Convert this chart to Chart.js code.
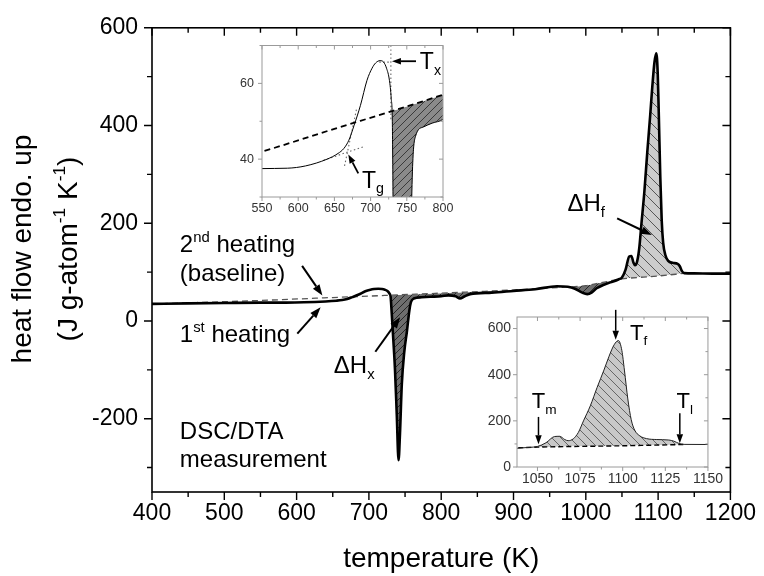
<!DOCTYPE html>
<html>
<head>
<meta charset="utf-8">
<script src="https://cdn.jsdelivr.net/npm/chart.js@4.4.0/dist/chart.umd.min.js"></script>
<style>
  body { margin: 0; background: #fff; }
  #wrap { position: relative; width: 764px; height: 576px; }
  canvas { position: absolute; }
</style>
</head>
<body>
<div id="wrap">
  <canvas id="main" width="764" height="576" style="left:0;top:0"></canvas>
  <canvas id="glass" width="230" height="190" style="left:232px;top:30px"></canvas>
  <canvas id="melt" width="250" height="200" style="left:477px;top:300px"></canvas>
</div>
<script>
// 1st heating (temperature K / heat flow)
const heatT = [400, 450, 500, 550, 585, 610, 640, 655, 663, 670, 677, 686, 695, 702, 707, 713, 718, 722, 726, 728.5,
  730, 731, 733, 736, 738.5, 741, 743, 745.5, 749, 752.5, 756, 758, 762, 773, 785, 800, 810, 820, 826, 832,
  840, 870, 900, 930, 960, 975, 985, 995, 1002, 1008, 1015, 1025, 1034, 1045, 1050, 1055, 1060, 1063, 1066, 1068,
  1071, 1074, 1077, 1081, 1085, 1089, 1092, 1095, 1097.5, 1099.5, 1101, 1103, 1105, 1107, 1110, 1114, 1120, 1127, 1130, 1133,
  1136, 1150, 1175, 1200];
const firstHeating = [35, 36, 36.8, 37.5, 37.6, 38.2, 40, 41.5, 42.8, 45, 48.8, 54.2, 60.8, 64, 65.4, 66, 65.6, 64, 60.8, 56,
  50, 30, -20, -97, -190, -285, -230, -130, -62, -22, 22, 38, 46, 48.5, 49.5, 50.5, 52.5, 50.5, 46, 50,
  55, 58, 61.5, 65, 71, 70, 66, 58, 55, 58, 67, 74, 79, 85, 89, 105, 132, 133, 119, 114,
  122, 150, 200, 265, 345, 420, 480, 530, 548, 505, 420, 295, 205, 160, 135, 123, 119, 117, 112, 102,
  98, 97.5, 97, 97];

// 2nd heating = baseline
const baseT = [400, 500, 550, 650, 730, 800, 900, 950, 1000, 1020, 1050, 1100, 1136];
const baseline = [35, 39.5, 42, 48, 52.7, 57, 63.5, 67.5, 72.5, 78, 86, 92, 97.5];

// construction lines of the glass-transition inset
const tgLowT = [635, 692];
const tgLow = [39.7, 43.4];
const tgSteepT = [664, 681];
const tgSteep = [38.2, 53.6];
const txVertT = [728, 728];
const txVert = [70, 50];
const txLevelT = [712, 728];
const txLevel = [65.6, 65.6];

// tick values
const mainXTicks = [400, 500, 600, 700, 800, 900, 1000, 1100, 1200];
const mainXMinor = [450, 550, 650, 750, 850, 950, 1050, 1150];
const mainYTicks = [-200, 0, 200, 400, 600];
const mainYMinor = [-300, -100, 100, 300, 500];
const glassXTicks = [550, 600, 650, 700, 750, 800];
const glassXMinor = [575, 625, 675, 725, 775];
const glassYTicks = [40, 60];
const glassYMinor = [30, 50, 70];
const meltXTicks = [1050, 1075, 1100, 1125, 1150];
const meltXMinor = [1062.5, 1087.5, 1112.5, 1137.5];
const meltYTicks = [0, 200, 400, 600];
const meltYMinor = [100, 300, 500];

const FAMILY = "'Liberation Sans', Arial, sans-serif";
Chart.defaults.font.family = FAMILY;

function pts(xs, ys) { return xs.map((x, i) => ({ x: x, y: ys[i] })); }
function between(xs, ys, lo, hi) { return pts(xs, ys).filter(p => p.x >= lo && p.x <= hi); }

// hatched fill
function hatch(bg, fg, gap, slash) {
  const c = document.createElement('canvas');
  c.width = c.height = gap;
  const g = c.getContext('2d');
  g.fillStyle = bg;
  g.fillRect(0, 0, gap, gap);
  g.strokeStyle = fg;
  g.lineWidth = 1;
  g.beginPath();
  if (slash) {
    g.moveTo(0, gap); g.lineTo(gap, 0);
    g.moveTo(-gap, gap); g.lineTo(gap, -gap);
    g.moveTo(0, 2 * gap); g.lineTo(2 * gap, 0);
  } else {
    g.moveTo(0, 0); g.lineTo(gap, gap);
    g.moveTo(-gap, 0); g.lineTo(gap, 2 * gap);
    g.moveTo(0, -gap); g.lineTo(2 * gap, gap);
  }
  g.stroke();
  return g.createPattern(c, 'repeat');
}

// text with super/subscripts: parts = [[text, 'n'|'sup'|'sub'], ...]
function richWidth(ctx, parts, size) {
  let w = 0;
  parts.forEach(([t, k]) => {
    ctx.font = (k === 'n' ? size : size * 0.62) + 'px ' + FAMILY;
    w += ctx.measureText(t).width;
  });
  return w;
}
function rich(ctx, x, y, parts, size) {
  let cx = x;
  ctx.textAlign = 'left';
  ctx.textBaseline = 'alphabetic';
  parts.forEach(([t, k]) => {
    const s = k === 'n' ? size : size * 0.62;
    const dy = k === 'sup' ? -size * 0.42 : (k === 'sub' ? size * 0.25 : 0);
    ctx.font = s + 'px ' + FAMILY;
    ctx.fillText(t, cx, y + dy);
    cx += ctx.measureText(t).width;
  });
}

function drawArrow(ctx, x1, y1, x2, y2, w, head) {
  const a = Math.atan2(y2 - y1, x2 - x1);
  const bx = x2 - head * Math.cos(a), by = y2 - head * Math.sin(a);
  const hw = head * 0.36;
  ctx.lineWidth = w;
  ctx.beginPath(); ctx.moveTo(x1, y1); ctx.lineTo(bx, by); ctx.stroke();
  ctx.beginPath();
  ctx.moveTo(x2, y2);
  ctx.lineTo(bx + hw * Math.sin(a), by - hw * Math.cos(a));
  ctx.lineTo(bx - hw * Math.sin(a), by + hw * Math.cos(a));
  ctx.closePath();
  ctx.fill();
}

// box, ticks (out on left/bottom, in on top/right) and white plot background
const framePlugin = {
  id: 'frame',
  beforeDatasetsDraw(chart, args, o) {
    const { ctx, chartArea: a } = chart;
    ctx.save();
    ctx.fillStyle = '#fff';
    ctx.fillRect(a.left, a.top, a.right - a.left, a.bottom - a.top);
    ctx.restore();
  },
  afterDraw(chart, args, o) {
    const { ctx, chartArea: a, scales: { x, y } } = chart;
    ctx.save();
    ctx.strokeStyle = o.color;
    ctx.lineWidth = o.width;
    ctx.strokeRect(a.left, a.top, a.right - a.left, a.bottom - a.top);
    ctx.lineWidth = o.tickWidth;
    ctx.beginPath();
    const xs = (vals, len) => vals.forEach(v => {
      const p = x.getPixelForValue(v);
      ctx.moveTo(p, a.bottom); ctx.lineTo(p, a.bottom + len);
      ctx.moveTo(p, a.top); ctx.lineTo(p, a.top + len);
    });
    const ys = (vals, len) => vals.forEach(v => {
      const p = y.getPixelForValue(v);
      ctx.moveTo(a.left, p); ctx.lineTo(a.left - len, p);
      ctx.moveTo(a.right, p); ctx.lineTo(a.right - len, p);
    });
    xs(o.xMajor, o.major); xs(o.xMinor, o.minor);
    ys(o.yMajor, o.major); ys(o.yMinor, o.minor);
    ctx.stroke();
    ctx.restore();
  }
};

// labels and arrows placed in data coordinates
const notesPlugin = {
  id: 'notes',
  afterDraw(chart, args, o) {
    const { ctx, scales: { x, y } } = chart;
    ctx.save();
    ctx.fillStyle = o.color;
    ctx.strokeStyle = o.color;
    (o.arrows || []).forEach(r => drawArrow(ctx, x.getPixelForValue(r[0]), y.getPixelForValue(r[1]),
      x.getPixelForValue(r[2]), y.getPixelForValue(r[3]), o.arrowWidth, o.head));
    (o.texts || []).forEach(t => rich(ctx, x.getPixelForValue(t.at[0]), y.getPixelForValue(t.at[1]), t.parts, t.size));
    ctx.restore();
  }
};

// axis titles of the big chart
const titlesPlugin = {
  id: 'titles',
  afterDraw(chart) {
    const { ctx, chartArea: a } = chart;
    ctx.save();
    ctx.fillStyle = '#000';
    const xt = [['temperature (K)', 'n']];
    rich(ctx, (a.left + a.right) / 2 - richWidth(ctx, xt, 28) / 2, 567, xt, 28);
    const l1 = [['heat flow endo. up', 'n']];
    const l2 = [['(J g-atom', 'n'], ['-1', 'sup'], [' K', 'n'], ['-1', 'sup'], [')', 'n']];
    ctx.translate(0, 249);
    ctx.rotate(-Math.PI / 2);
    rich(ctx, -richWidth(ctx, l1, 28) / 2, 31, l1, 28);
    rich(ctx, -richWidth(ctx, l2, 28) / 2, 77, l2, 28);
    ctx.restore();
  }
};

function fixedTicks(list) { return s => { s.ticks = list.map(v => ({ value: v })); }; }
const plain = v => String(v);

function lineSet(label, data, color, width, dash) {
  return { label: label, data: data, borderColor: color, borderWidth: width, borderDash: dash || [],
    pointRadius: 0, cubicInterpolationMode: 'monotone', fill: false };
}
function fillSet(label, data, target, above, below) {
  return { label: label, data: data, borderColor: 'rgba(0,0,0,0)', borderWidth: 0, pointRadius: 0,
    cubicInterpolationMode: 'monotone', fill: { target: target, above: above, below: below } };
}
const none = 'rgba(0,0,0,0)';

function axes(xr, yr, xt, yt, size, color, padX, padY, yWidth, xHeight) {
  return {
    x: { type: 'linear', min: xr[0], max: xr[1], grid: { display: false, drawTicks: false }, border: { display: false },
      afterBuildTicks: fixedTicks(xt), afterFit: s => { s.height = xHeight; },
      ticks: { font: { size: size }, color: color, padding: padX, maxRotation: 0, autoSkip: false, callback: plain } },
    y: { type: 'linear', min: yr[0], max: yr[1], grid: { display: false, drawTicks: false }, border: { display: false },
      afterBuildTicks: fixedTicks(yt), afterFit: s => { s.width = yWidth; },
      ticks: { font: { size: size }, color: color, padding: padY, autoSkip: false, callback: plain } }
  };
}

const common = { responsive: false, animation: false, events: [] };

// ---- main chart ----
new Chart(document.getElementById('main'), {
  type: 'line',
  data: { datasets: [
    lineSet('1st heating', pts(heatT, firstHeating), '#000', 2.6),
    lineSet('2nd heating (baseline)', pts(baseT, baseline), '#555', 1.3, [6, 4]),
    fillSet('crystallization', between(heatT, firstHeating, 728, 1046), 1, none, hatch('#6e6e6e', '#262626', 7, true)),
    fillSet('melting', between(heatT, firstHeating, 1045, 1137), 1, hatch('#cccccc', '#555555', 11, false), none)
  ] },
  options: Object.assign({}, common, {
    layout: { padding: { top: 22, right: 30, left: 0, bottom: 0 } },
    scales: axes([400, 1200], [-350, 600], mainXTicks, mainYTicks, 23, '#000', 8, 14, 152, 84),
    plugins: {
      legend: { display: false }, tooltip: { enabled: false },
      frame: { color: '#000', width: 1.6, tickWidth: 1.4, major: 8, minor: 5,
        xMajor: mainXTicks, xMinor: mainXMinor, yMajor: mainYTicks, yMinor: mainYMinor },
      notes: { color: '#000', arrowWidth: 2, head: 11,
        arrows: [[607.6, 112.8, 635.7, 52.2], [601, -26, 633.2, 27.9], [708.9, -63, 743.2, 7.7], [1043.3, 210, 1091.4, 176]],
        texts: [
          { at: [438.5, 142], parts: [['2', 'n'], ['nd', 'sup'], [' heating', 'n']], size: 24 },
          { at: [438.5, 82], parts: [['(baseline)', 'n']], size: 24 },
          { at: [438.5, -44], parts: [['1', 'n'], ['st', 'sup'], [' heating', 'n']], size: 24 },
          { at: [651.5, -107], parts: [['\u0394H', 'n'], ['x', 'sub']], size: 24 },
          { at: [974.6, 226], parts: [['\u0394H', 'n'], ['f', 'sub']], size: 24 },
          { at: [438.5, -241], parts: [['DSC/DTA', 'n']], size: 24 },
          { at: [438.5, -299], parts: [['measurement', 'n']], size: 24 }
        ] }
    }
  }),
  plugins: [framePlugin, notesPlugin, titlesPlugin]
});

// ---- inset: glass transition / crystallization onset ----
const dotted = (label, xs, ys) => lineSet(label, pts(xs, ys), '#666', 1.1, [1.5, 2.5]);
new Chart(document.getElementById('glass'), {
  type: 'line',
  data: { datasets: [
    lineSet('1st heating', pts(heatT, firstHeating), '#000', 1),
    lineSet('baseline', pts(baseT, baseline), '#000', 1.8, [6, 4]),
    dotted('Tg low tangent', tgLowT, tgLow),
    dotted('Tg steep tangent', tgSteepT, tgSteep),
    dotted('Tx vertical', txVertT, txVert),
    dotted('Tx level', txLevelT, txLevel),
    fillSet('crystallization', between(heatT, firstHeating, 728, 1046), 1, none, hatch('#8a8a8a', '#3a3a3a', 8, true))
  ] },
  options: Object.assign({}, common, {
    layout: { padding: { top: 6, right: 19, left: 0, bottom: 0 } },
    scales: axes([550, 800], [30, 70], glassXTicks, glassYTicks, 12.5, '#333', 4, 8, 30, 23),
    plugins: {
      legend: { display: false }, tooltip: { enabled: false },
      frame: { color: '#9a9a9a', width: 1, tickWidth: 1, major: 4, minor: 2.5,
        xMajor: glassXTicks, xMinor: glassXMinor, yMajor: glassYTicks, yMinor: glassYMinor },
      notes: { color: '#000', arrowWidth: 1.8, head: 9,
        arrows: [[762.7, 65.85, 729.5, 65.85], [683, 36.25, 669.2, 41.25]],
        texts: [
          { at: [768, 63.75], parts: [['T', 'n'], ['x', 'sub']], size: 23 },
          { at: [688, 32.5], parts: [['T', 'n'], ['g', 'sub']], size: 23 }
        ] }
    }
  }),
  plugins: [framePlugin, notesPlugin]
});

// ---- inset: melting ----
new Chart(document.getElementById('melt'), {
  type: 'line',
  data: { datasets: [
    lineSet('1st heating', pts(heatT, firstHeating), '#222', 1),
    lineSet('baseline', pts(baseT, baseline), '#000', 1.4, [5, 3]),
    fillSet('melting', between(heatT, firstHeating, 1045, 1137), 1, hatch('#c8c8c8', '#666666', 9, false), none)
  ] },
  options: Object.assign({}, common, {
    layout: { padding: { top: 17, right: 19, left: 0, bottom: 0 } },
    scales: axes([1038, 1150], [0, 650], meltXTicks, meltYTicks, 14, '#333', 4, 6, 40, 33),
    plugins: {
      legend: { display: false }, tooltip: { enabled: false },
      frame: { color: '#9a9a9a', width: 1, tickWidth: 1, major: 4, minor: 2.5,
        xMajor: meltXTicks, xMinor: meltXMinor, yMajor: meltYTicks, yMinor: meltYMinor },
      notes: { color: '#000', arrowWidth: 1.5, head: 9,
        arrows: [[1050.6, 217, 1050.6, 98.7], [1095.9, 681, 1095.9, 551], [1133.5, 233, 1133.5, 103]],
        texts: [
          { at: [1046.7, 254], parts: [['T', 'n'], ['m', 'sub']], size: 22 },
          { at: [1104.3, 551], parts: [['T', 'n'], ['f', 'sub']], size: 22 },
          { at: [1131.6, 255], parts: [['T', 'n'], ['l', 'sub']], size: 22 }
        ] }
    }
  }),
  plugins: [framePlugin, notesPlugin]
});
</script>
</body>
</html>
